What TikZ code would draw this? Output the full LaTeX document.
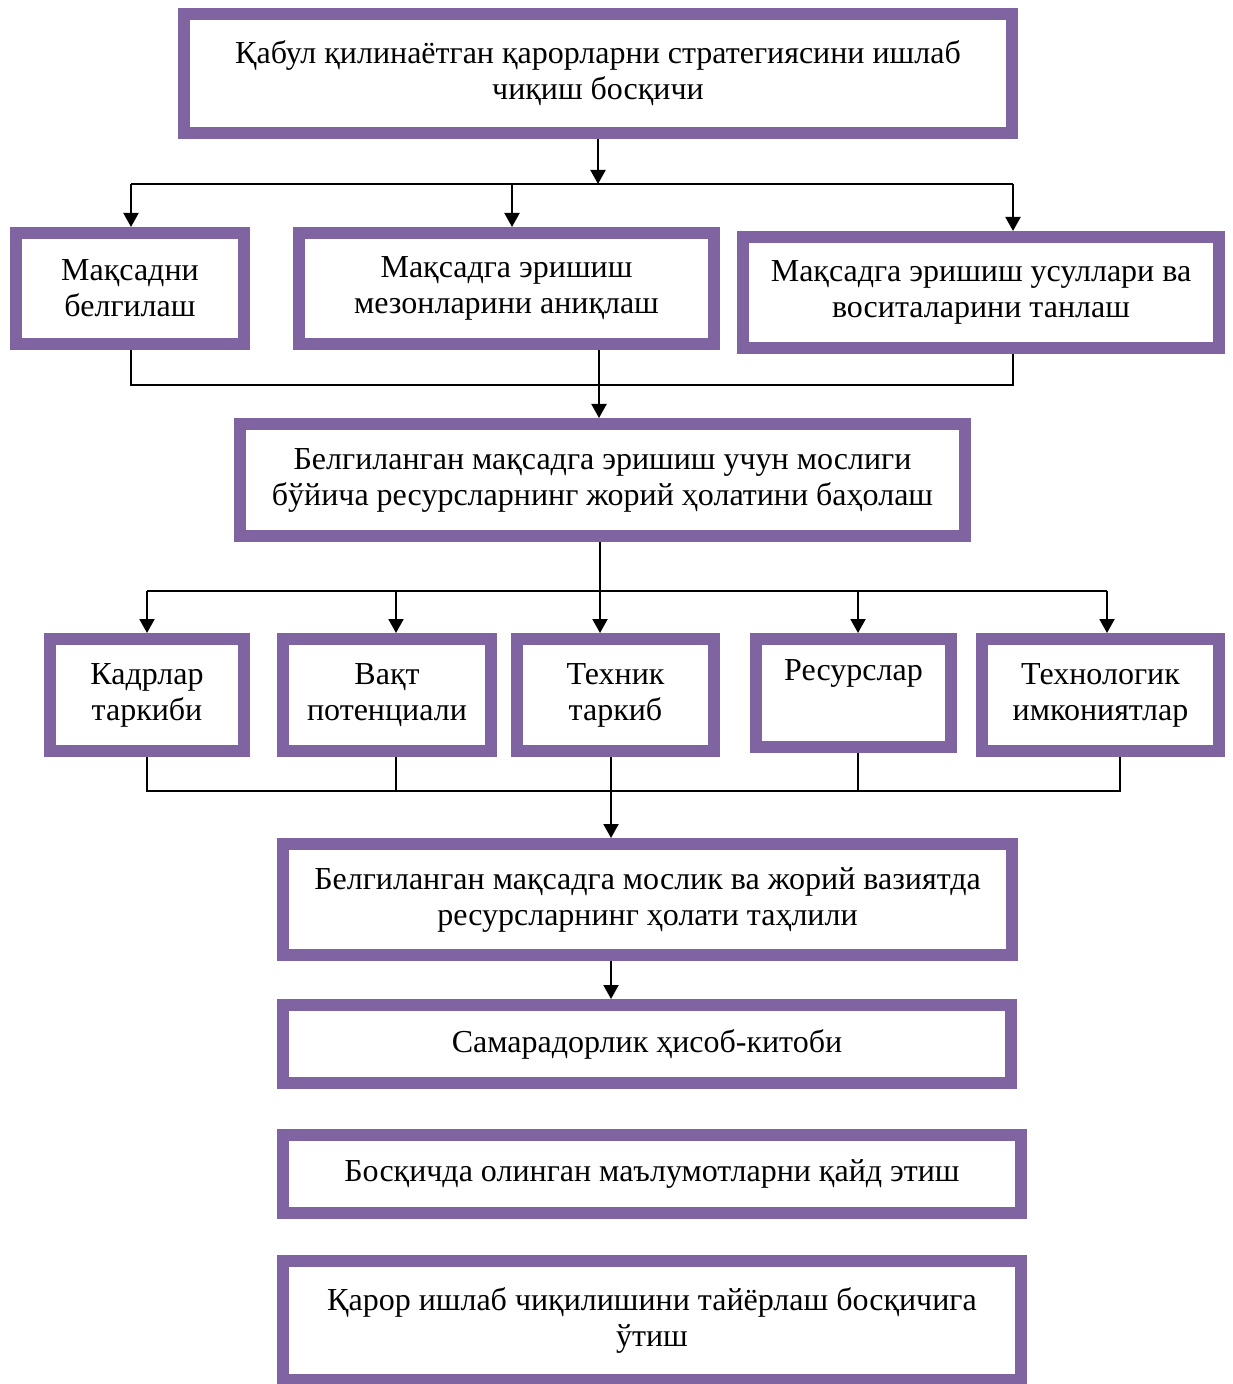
\documentclass[tikz,border=0pt]{standalone}
\usepackage{fontspec}
\setmainfont{Liberation Serif}
\usepackage{tikz}
\usetikzlibrary{positioning, arrows.meta}

\definecolor{boxpurple}{HTML}{8064A2}

\tikzset{
  stage/.style={draw=boxpurple, line width=6pt, fill=white, align=center,
                inner sep=0pt, font=\fontsize{16}{18}\selectfont},
  link/.style={line width=0.7pt, black},
  arr/.style={line width=1pt, black, -{Triangle[length=7pt,width=7.5pt]}}
}

\begin{document}
\begin{tikzpicture}[x=0.5pt,y=0.5pt,yscale=-1,xscale=1]
\useasboundingbox (0,0) rectangle (1232,1384);

% top stage
\node[stage, minimum width=414pt, minimum height=59.5pt] (top) at (598,73.5)
  {Қабул қилинаётган қарорларни стратегиясини ишлаб\\чиқиш босқичи};

% goal row
\node[stage, minimum width=114pt, minimum height=55.5pt] (goal) at (130,288.5)
  {Мақсадни\\белгилаш};
\node[stage, minimum width=207.5pt, minimum height=55.5pt] (crit) at (506.5,288.5)
  {Мақсадга эришиш\\мезонларини аниқлаш};
\node[stage, minimum width=238pt, minimum height=55.5pt] (tools) at (981,292.5)
  {Мақсадга эришиш усуллари ва\\воситаларини танлаш};

% evaluation
\node[stage, minimum width=362.5pt, minimum height=56pt] (eval) at (602.5,480)
  {Белгиланган мақсадга эришиш учун мослиги\\бўйича ресурсларнинг жорий ҳолатини баҳолаш};

% resource row
\node[stage, minimum width=97pt, minimum height=56pt] (staff) at (147,695)
  {Кадрлар\\таркиби};
\node[stage, minimum width=104pt, minimum height=56pt] (time) at (387,695)
  {Вақт\\потенциали};
\node[stage, minimum width=98.5pt, minimum height=56pt] (tech) at (615.5,695)
  {Техник\\таркиб};
\node[stage, minimum width=97.5pt, minimum height=54pt] (res) at (853.5,693)
  {Ресурслар\\\strut};
\node[stage, minimum width=118.5pt, minimum height=56pt] (techno) at (1100.5,695)
  {Технологик\\имкониятлар};

% lower stages
\node[stage, minimum width=364.5pt, minimum height=55.5pt] (anal) at (647.5,899.5)
  {Белгиланган мақсадга мослик ва жорий вазиятда\\ресурсларнинг ҳолати таҳлили};
\node[stage, minimum width=364pt, minimum height=39pt] (calc) at (647,1044)
  {Самарадорлик ҳисоб-китоби};
\node[stage, minimum width=369pt, minimum height=39pt] (rec) at (652,1174)
  {Босқичда олинган маълумотларни қайд этиш};
\node[stage, minimum width=369pt, minimum height=59.5pt] (next) at (652,1320)
  {Қарор ишлаб чиқилишини тайёрлаш босқичига\\ўтиш};

% junction points
\coordinate (a1) at (131,184);
\coordinate (a2) at (512,184);
\coordinate (a3) at (1013,184);
\coordinate (c1) at (131,385);
\coordinate (c2) at (599,385);
\coordinate (c3) at (1013,385);
\coordinate (d1) at (147,591);
\coordinate (d2) at (396,591);
\coordinate (d3) at (600,591);
\coordinate (d4) at (858,591);
\coordinate (d5) at (1107,591);
\coordinate (e1) at (147,791);
\coordinate (e2) at (396,791);
\coordinate (e3) at (611,791);
\coordinate (e4) at (858,791);
\coordinate (e5) at (1120,791);

% top -> goal row
\draw[arr] (top.south) -- (top.south |- a1);
\draw[link] (a1) -- (a3);
\draw[arr] (a1) -- (a1 |- goal.north);
\draw[arr] (a2) -- (a2 |- crit.north);
\draw[arr] (a3) -- (a3 |- tools.north);

% goal row -> evaluation
\draw[link] (c1 |- goal.south) -- (c1) -- (c3) -- (c3 |- tools.south);
\draw[arr] (c2 |- crit.south) -- (c2 |- eval.north);

% evaluation -> resource row
\draw[link] (d1) -- (d5);
\draw[arr] (d3 |- eval.south) -- (d3 |- tech.north);
\draw[arr] (d1) -- (d1 |- staff.north);
\draw[arr] (d2) -- (d2 |- time.north);
\draw[arr] (d4) -- (d4 |- res.north);
\draw[arr] (d5) -- (d5 |- techno.north);

% resource row -> analysis
\draw[link] (e1 |- staff.south) -- (e1) -- (e5) -- (e5 |- techno.south);
\draw[link] (e2 |- time.south) -- (e2);
\draw[link] (e4 |- res.south) -- (e4);
\draw[arr] (e3 |- tech.south) -- (e3 |- anal.north);
\draw[arr] (e3 |- anal.south) -- (e3 |- calc.north);

\end{tikzpicture}
\end{document}
